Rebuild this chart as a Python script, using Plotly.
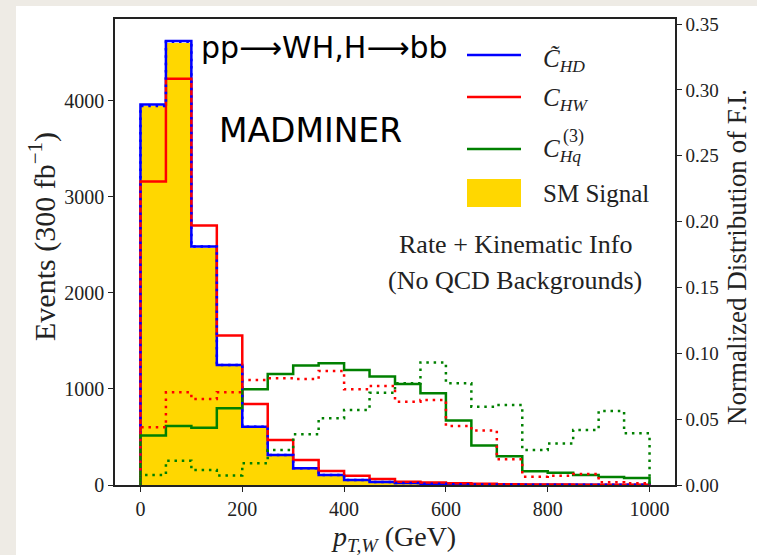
import plotly.graph_objects as go

# ---------------- data ----------------
bin_edges = [0, 50, 100, 150, 200, 250, 300, 350, 400, 450, 500, 550, 600, 650, 700, 750, 800, 850, 900, 950, 1000]

sm_signal = [3940, 4600, 2470, 1240, 600, 305, 168, 95, 48, 28, 17, 10, 7, 4, 3, 2, 2, 1, 1, 1]
events_chd = [3960, 4620, 2482, 1250, 607, 312, 174, 104, 52, 31, 20, 12, 8, 5, 4, 3, 2, 2, 1, 1]
events_chw = [3160, 4229, 2700, 1555, 844, 469, 260, 146, 97, 62, 35, 25, 18, 12, 8, 5, 4, 3, 2, 2]
events_chq = [514, 615, 597, 799, 997, 1156, 1243, 1267, 1198, 1128, 1052, 955, 670, 410, 298, 142, 128, 104, 83, 73]

fi_chd = [0.2878, 0.3365, 0.181, 0.0911, 0.0442, 0.0228, 0.0127, 0.0076, 0.0038, 0.0023,
          0.0015, 0.0009, 0.0006, 0.0004, 0.0003, 0.0002, 0.0002, 0.0001, 0.0001, 0.0001]
fi_chw = [0.0438, 0.0704, 0.0653, 0.0704, 0.0797, 0.081, 0.0805, 0.0866, 0.0727, 0.0752,
          0.0633, 0.0645, 0.0448, 0.0413, 0.0195, 0.0063, 0.0071, 0.0083, 0.0020, 0.0013]
fi_chq = [0.0076, 0.0185, 0.0114, 0.0073, 0.0165, 0.0266, 0.0385, 0.0506, 0.057, 0.070,
          0.0772, 0.0931, 0.0772, 0.0595, 0.0607, 0.0266, 0.0316, 0.0418, 0.0562, 0.0392]

x_ticks = [0, 200, 400, 600, 800, 1000]
y_ticks = [0, 1000, 2000, 3000, 4000]
y2_ticks = [0.0, 0.05, 0.10, 0.15, 0.20, 0.25, 0.30, 0.35]

# ---------------- layout geometry (pixels) ----------------
W, H = 757, 555
L, R, T, B = 115, 675, 19, 485
pw, ph = R - L, B - T


def px(xp):
    return (xp - L) / pw


def py(yp):
    return (B - yp) / ph


def step_xy(vals):
    xs = [bin_edges[0]] + bin_edges[:-1] + [bin_edges[-1], bin_edges[-1]]
    ys = [0] + list(vals) + [vals[-1], 0]
    return xs, ys


BLUE, RED, GREEN, GOLD = "#0000ff", "#ff0000", "#008000", "#ffd700"
SERIF = "Liberation Serif, DejaVu Serif, serif"
SANS = "DejaVu Sans, sans-serif"
DOT = "2.5px,4.8px"

fig = go.Figure()

centers = [(bin_edges[i] + bin_edges[i + 1]) / 2 for i in range(len(bin_edges) - 1)]
widths = [bin_edges[i + 1] - bin_edges[i] for i in range(len(bin_edges) - 1)]
fig.add_trace(go.Bar(x=centers, y=sm_signal, width=widths, marker=dict(color=GOLD, line=dict(width=0)),
                     showlegend=False, hoverinfo="skip"))

for vals, col in [(events_chd, BLUE), (events_chw, RED), (events_chq, GREEN)]:
    xs, ys = step_xy(vals)
    fig.add_trace(go.Scatter(x=xs, y=ys, mode="lines", line=dict(color=col, width=2.5, shape="hv"),
                             showlegend=False, hoverinfo="skip"))

for vals, col in [(fi_chd, BLUE), (fi_chw, RED), (fi_chq, GREEN)]:
    xs, ys = step_xy(vals)
    fig.add_trace(go.Scatter(x=xs, y=ys, mode="lines", yaxis="y2",
                             line=dict(color=col, width=2.5, shape="hv", dash=DOT),
                             showlegend=False, hoverinfo="skip"))

tickfont = dict(family=SERIF, size=20, color="#222")

fig.update_layout(
    width=W, height=H,
    margin=dict(l=L, r=W - R, t=T, b=H - B, pad=0),
    paper_bgcolor="#eeebe5",
    plot_bgcolor="white",
    bargap=0,
    xaxis=dict(range=[-50, 1050], tickvals=x_ticks, ticks="outside", ticklen=5, tickwidth=1,
               tickcolor="#222", showline=True, linecolor="#222", linewidth=1.5, mirror=True,
               showgrid=False, zeroline=False, tickfont=tickfont),
    yaxis=dict(range=[0, 4850], tickvals=y_ticks, ticks="outside", ticklen=5, tickwidth=1,
               tickcolor="#222", showline=True, linecolor="#222", linewidth=1.5,
               showgrid=False, zeroline=False, tickfont=tickfont),
    yaxis2=dict(range=[0, 0.3538], tickvals=y2_ticks, tickformat=".2f", overlaying="y", side="right",
                ticks="outside", ticklen=5, tickwidth=1, tickcolor="#222", showline=True,
                linecolor="#222", linewidth=1.5, showgrid=False, zeroline=False,
                tickfont=dict(family=SERIF, size=19, color="#222")),
)

shapes = [
    # white figure area on beige page
    dict(type="rect", xref="paper", yref="paper", x0=px(16), x1=px(W + 2), y0=py(H + 2), y1=py(6),
         fillcolor="white", line=dict(width=0), layer="below"),
]
# manual legend handles
leg_x0, leg_x1 = px(467), px(521)
for yy, col in [(55, BLUE), (97, RED), (149, GREEN)]:
    shapes.append(dict(type="line", xref="paper", yref="paper", x0=leg_x0, x1=leg_x1, y0=py(yy), y1=py(yy),
                       line=dict(color=col, width=2.5)))
shapes.append(dict(type="rect", xref="paper", yref="paper", x0=leg_x0, x1=leg_x1, y0=py(207), y1=py(179),
                   fillcolor=GOLD, line=dict(width=0)))
fig.update_layout(shapes=shapes)

ann = []


def add_text(text, x, y, size, family=SERIF, xanchor="left", angle=0, color="#222"):
    ann.append(dict(text=text, x=px(x), y=py(y), xref="paper", yref="paper", showarrow=False,
                    xanchor=xanchor, yanchor="middle", textangle=angle,
                    font=dict(family=family, size=size, color=color)))


# legend labels
add_text("<i>C̃</i><sub><i>HD</i></sub>", 541, 60, 25)
add_text("<i>C</i><sub><i>HW</i></sub>", 541, 100, 25)
add_text("<i>C</i><sub><i>Hq</i></sub>", 541, 151, 25)
add_text("(3)", 561, 136, 18)
add_text("SM Signal", 541, 193, 25)

# in-plot texts
add_text("pp⟶WH,H⟶bb", 324, 47, 30, family=SANS, xanchor="center", color="black")
add_text("MADMINER", 310, 130, 33, family=SANS, xanchor="center", color="black")
add_text("Rate + Kinematic Info", 515, 244, 26, xanchor="center")
add_text("(No QCD Backgrounds)", 515, 280, 26, xanchor="center")

# axis titles
add_text("Events (300 fb<sup>−1</sup>)", 42, 237, 30, xanchor="center", angle=-90)
add_text("Normalized Distribution of F.I.", 737, 257, 27, xanchor="center", angle=-90)
add_text("<i>p</i><sub><i>T,W</i></sub> (GeV)", 393, 538, 28, xanchor="center")

fig.update_layout(annotations=ann)

fig.write_html("out.html")
